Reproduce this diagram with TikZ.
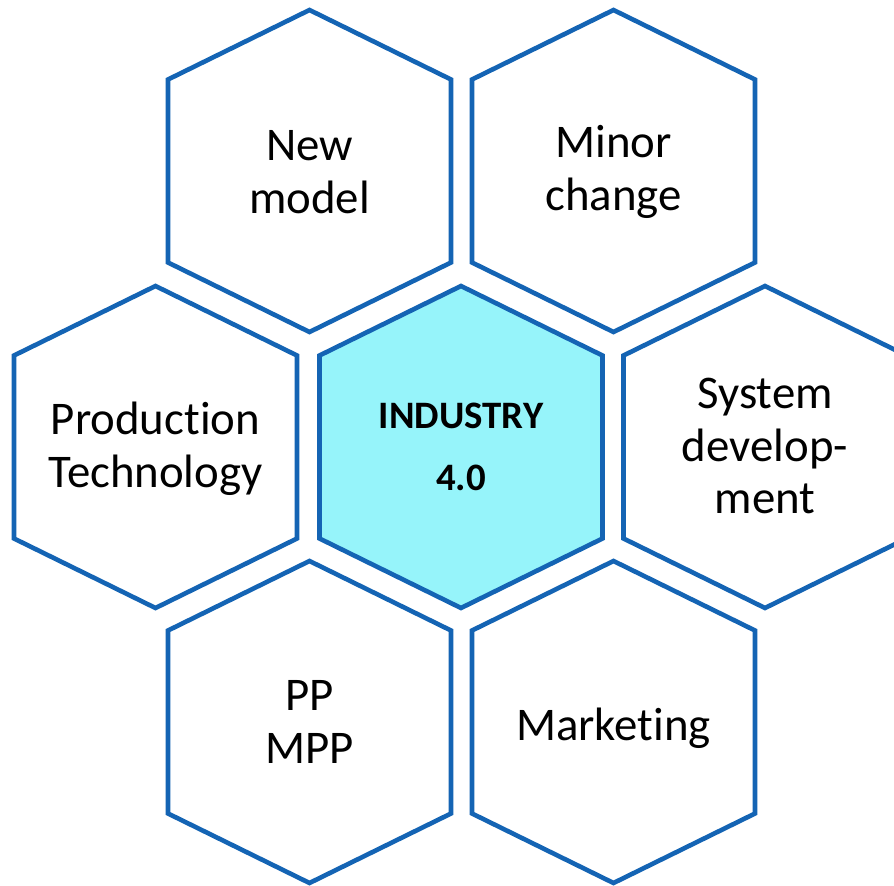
\documentclass[tikz,border=0pt]{standalone}
\usepackage{fontspec}
\setmainfont{Carlito}[Ligatures=NoCommon]
\definecolor{hexblue}{RGB}{20,100,180}
\definecolor{hexcyan}{RGB}{150,244,250}
\tikzset{
  hexline/.style={draw=hexblue,line width=4.6bp,line join=miter},
  hexlabel/.style={font=\fontsize{47}{53}\selectfont,align=center,inner sep=0pt},
  corelabel/.style={font=\fontsize{39}{62}\selectfont\bfseries,align=center,inner sep=0pt},
  hex/.pic={\path[pic actions] (0,-161) -- (141.5,-91.5) -- (141.5,91.5) -- (0,161) -- (-141.5,91.5) -- (-141.5,-91.5) -- cycle;}
}
\begin{document}
\begin{tikzpicture}[x=1bp,y=-1bp]
\useasboundingbox (0,0) rectangle (894,886);
\clip (0,0) rectangle (894,886);
\fill[white] (0,0) rectangle (894,886);
% hexagons
\pic[hexline] at (309.5,171) {hex};
\pic[hexline] at (613.5,171) {hex};
\pic[hexline] at (155.5,447) {hex};
\pic[hexline,fill=hexcyan] at (461,447) {hex};
\pic[hexline] at (765,447) {hex};
\pic[hexline] at (309.5,722) {hex};
\pic[hexline] at (613.5,722) {hex};
% labels
\node[hexlabel] (newmodel) at (309.5,172) {New\\model};
\node[hexlabel] (minor) at (613.5,172) {Minor\\change};
\node[hexlabel] (prod) at (155.5,449) {Production\\Technology};
\node[corelabel] (core) at (461,447) {INDUSTRY\\4.0};
\node[hexlabel] (system) at (765,446) {System\\develop-\\ment};
\node[hexlabel] (pp) at (309.5,722) {PP\\MPP};
\node[hexlabel] (mkt) at (613.5,728) {Marketing};
\end{tikzpicture}
\end{document}
